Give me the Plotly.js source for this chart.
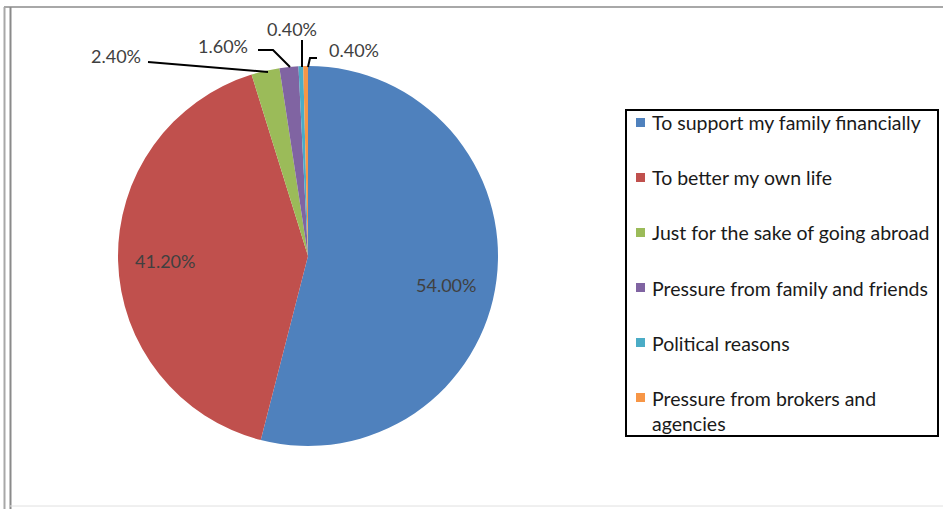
<!DOCTYPE html>
<html>
<head>
<meta charset="utf-8">
<script src="https://cdn.plot.ly/plotly-3.0.1.min.js"></script>
<style>html,body{margin:0;padding:0;background:#fff;}#chart{width:943px;height:509px;}</style>
</head>
<body>
<div id="chart"></div>
<script>
// ---- data ----
var categories = [
  'To support my family financially',
  'To better my own life',
  'Just for the sake of going abroad',
  'Pressure from family and friends',
  'Political reasons',
  'Pressure from brokers and agencies'
];
var values = [54.0, 41.2, 2.4, 1.6, 0.4, 0.4];
var colors = ['#4F81BD', '#C0504D', '#9BBB59', '#8064A2', '#4BACC6', '#F79646'];

// ---- layout helpers (pixel -> paper) ----
var W = 943, H = 509;
function px(x) { return x / W; }
function py(y) { return 1 - y / H; }

var FONT = 'Lato, "Open Sans", sans-serif';

// label positions (pixel centres) and leader lines for each slice
var labelPos = [[446, 285], [165, 261], [116, 56], [223, 46], [292, 29], [354, 50]];
var leaders = [
  null,
  null,
  [[148, 62], [268, 72]],
  [[258, 50], [273, 50], [290, 67]],
  [[302, 40], [302, 67]],
  [[317, 58], [310, 58], [308, 67]]
];

var annotations = [];
var shapes = [];

values.forEach(function (v, i) {
  annotations.push({
    xref: 'paper', yref: 'paper',
    x: px(labelPos[i][0]), y: py(labelPos[i][1]),
    xanchor: 'center', yanchor: 'middle',
    text: v.toFixed(2) + '%', showarrow: false,
    font: {family: FONT, size: 18, color: '#404040'}
  });
  if (leaders[i]) {
    var p = leaders[i];
    var d = 'M ' + px(p[0][0]) + ' ' + py(p[0][1]);
    for (var k = 1; k < p.length; k++) d += ' L ' + px(p[k][0]) + ' ' + py(p[k][1]);
    shapes.push({type: 'path', xref: 'paper', yref: 'paper', path: d,
      line: {color: '#000', width: 2}});
  }
});

// ---- manual legend ----
var legendRows = [123, 178, 233, 288, 343, 398];
shapes.push({type: 'rect', xref: 'paper', yref: 'paper',
  x0: px(626), x1: px(938), y0: py(110), y1: py(436),
  line: {color: '#000', width: 2}, fillcolor: 'rgba(0,0,0,0)'});
categories.forEach(function (c, i) {
  var y = legendRows[i];
  shapes.push({type: 'rect', xref: 'paper', yref: 'paper',
    x0: px(636), x1: px(645), y0: py(y - 5), y1: py(y + 4),
    line: {width: 0}, fillcolor: colors[i]});
  var txt = c.length > 33 ? c.replace(' and ', ' and<br>') : c;
  var multi = txt.indexOf('<br>') >= 0;
  annotations.push({
    xref: 'paper', yref: 'paper',
    x: px(650), y: multi ? py(y - 13) : py(y),
    xanchor: 'left', yanchor: multi ? 'top' : 'middle', align: 'left',
    text: txt, showarrow: false,
    font: {family: FONT, size: 19.5, color: '#1a1a1a'}
  });
});

// ---- frame lines ----
shapes.push({type: 'line', xref: 'paper', yref: 'paper', x0: px(4), x1: 1, y0: py(7), y1: py(7), line: {color: '#a8a8a8', width: 2}});
shapes.push({type: 'line', xref: 'paper', yref: 'paper', x0: px(4.5), x1: px(4.5), y0: py(7), y1: 0, line: {color: '#a8a8a8', width: 2}});
shapes.push({type: 'line', xref: 'paper', yref: 'paper', x0: px(10.5), x1: px(10.5), y0: py(7), y1: 0, line: {color: '#8a8a8a', width: 2}});
shapes.push({type: 'line', xref: 'paper', yref: 'paper', x0: px(10), x1: 1, y0: py(506), y1: py(506), line: {color: '#e0e0e0', width: 1}});

var trace = {
  type: 'pie',
  labels: categories,
  values: values,
  marker: {colors: colors, line: {width: 0}},
  sort: false,
  direction: 'clockwise',
  rotation: 0,
  textinfo: 'none',
  hoverinfo: 'none',
  showlegend: false,
  domain: {x: [px(118), px(498)], y: [py(446), py(66)]}
};

var layout = {
  width: W, height: H,
  margin: {l: 0, r: 0, t: 0, b: 0},
  paper_bgcolor: '#ffffff',
  plot_bgcolor: '#ffffff',
  showlegend: false,
  annotations: annotations,
  shapes: shapes
};

Plotly.newPlot('chart', [trace], layout, {staticPlot: true, displayModeBar: false});
</script>
</body>
</html>
